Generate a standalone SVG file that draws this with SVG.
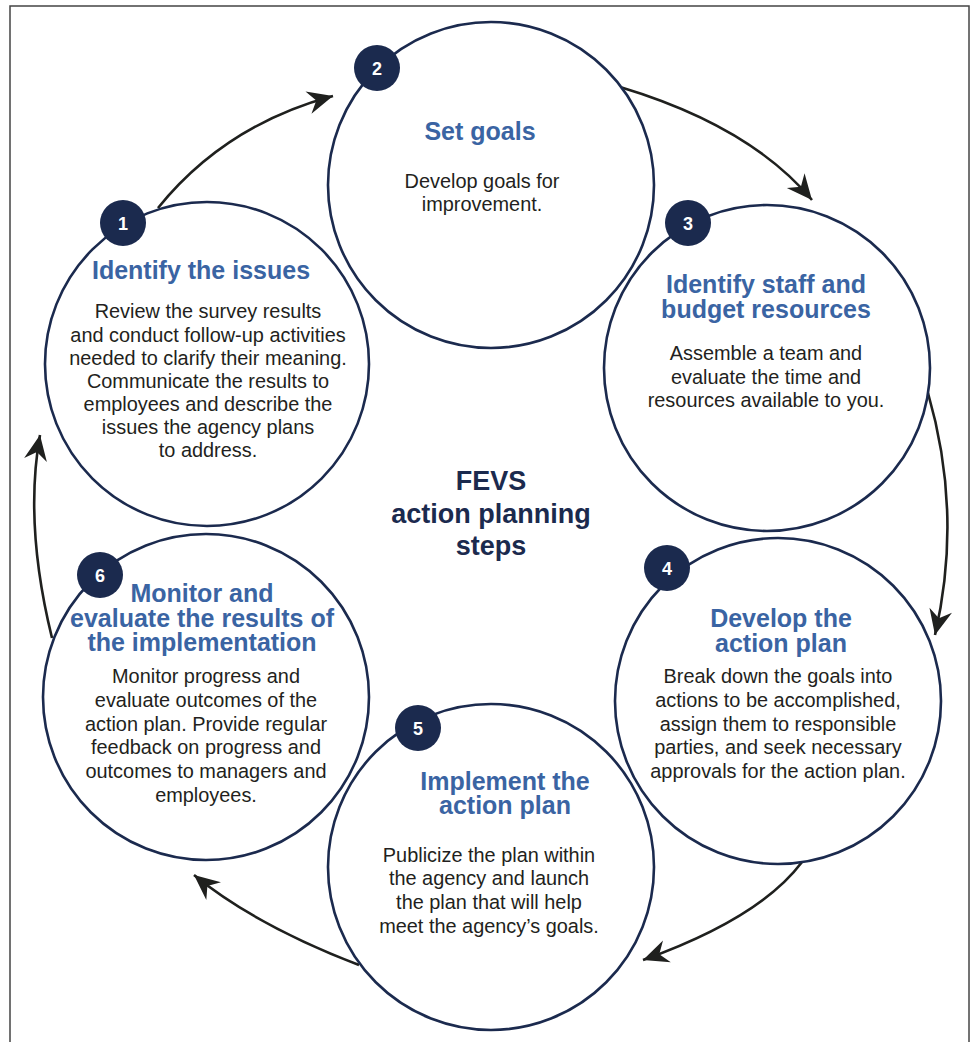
<svg xmlns="http://www.w3.org/2000/svg" width="975" height="1042" viewBox="0 0 975 1042">
<defs>
<style>
.ring{fill:#fff;stroke:#1b2a4e;stroke-width:2.6}
.badge{fill:#1b2a4e}
.num{fill:#fff;font-family:"Liberation Sans",Arial,sans-serif;font-weight:bold;font-size:18px;text-anchor:middle}
.title{fill:#3a64a3;font-family:"Liberation Sans",Arial,sans-serif;font-weight:bold;font-size:25px;text-anchor:middle}
.body{fill:#231f20;font-family:"Liberation Sans",Arial,sans-serif;font-size:19.9px;text-anchor:middle}
.center{fill:#1b2a4e;font-family:"Liberation Sans",Arial,sans-serif;font-weight:bold;font-size:27px;text-anchor:middle}
.arrow{fill:none;stroke:#1f201e;stroke-width:2.6;marker-end:url(#head)}
</style>
<marker id="head" markerUnits="userSpaceOnUse" markerWidth="30" markerHeight="30" viewBox="-24 -12 26 24" refX="0" refY="0" orient="auto">
<path d="M0,0 L-22,-10 L-15,0 L-22,10 Z" fill="#1f201e"/>
</marker>
</defs>
<rect x="10" y="6" width="959" height="1045" fill="#fff" stroke="#444" stroke-width="1.5"/>

<g id="connectors">
<path class="arrow" d="M158,208 Q225,125 333,96"/>
<path class="arrow" d="M620,87 Q750,126 812,200"/>
<path class="arrow" d="M928,393 Q963,514 935,635"/>
<path class="arrow" d="M802,862 Q760,918 643,960"/>
<path class="arrow" d="M359,965 Q255,925 194,875"/>
<path class="arrow" d="M52,638 Q24,524 40,435"/>
</g>

<g id="node2">
<circle class="ring" cx="491" cy="185" r="163"/>
<circle class="badge" cx="377" cy="68" r="23"/>
<text class="num" x="377" y="74.5">2</text>
<text class="title" x="480" y="140">Set goals</text>
<text class="body" x="482" y="188">Develop goals for</text>
<text class="body" x="482" y="211">improvement.</text>
</g>

<g id="node1">
<circle class="ring" cx="207" cy="364" r="162"/>
<circle class="badge" cx="123" cy="223" r="23"/>
<text class="num" x="123" y="229.5">1</text>
<text class="title" x="201" y="279">Identify the issues</text>
<text class="body" x="208" y="318">Review the survey results</text>
<text class="body" x="208" y="341.5">and conduct follow-up activities</text>
<text class="body" x="208" y="365">needed to clarify their meaning.</text>
<text class="body" x="208" y="388">Communicate the results to</text>
<text class="body" x="208" y="411">employees and describe the</text>
<text class="body" x="208" y="434">issues the agency plans</text>
<text class="body" x="208" y="457">to address.</text>
</g>

<g id="node3">
<circle class="ring" cx="767" cy="368" r="163"/>
<circle class="badge" cx="688" cy="223" r="23"/>
<text class="num" x="688" y="229.5">3</text>
<text class="title" x="766" y="293">Identify staff and</text>
<text class="title" x="766" y="318">budget resources</text>
<text class="body" x="766" y="360">Assemble a team and</text>
<text class="body" x="766" y="384">evaluate the time and</text>
<text class="body" x="766" y="407">resources available to you.</text>
</g>

<g id="node4">
<circle class="ring" cx="778" cy="701" r="163"/>
<circle class="badge" cx="667" cy="568" r="23"/>
<text class="num" x="667" y="574.5">4</text>
<text class="title" x="781" y="627">Develop the</text>
<text class="title" x="781" y="652">action plan</text>
<text class="body" x="778" y="683">Break down the goals into</text>
<text class="body" x="778" y="707">actions to be accomplished,</text>
<text class="body" x="778" y="731">assign them to responsible</text>
<text class="body" x="778" y="754">parties, and seek necessary</text>
<text class="body" x="778" y="778">approvals for the action plan.</text>
</g>

<g id="node6">
<circle class="ring" cx="206" cy="697" r="163"/>
<circle class="badge" cx="100" cy="575" r="23"/>
<text class="num" x="100" y="581.5">6</text>
<text class="title" x="202" y="602">Monitor and</text>
<text class="title" x="202" y="627">evaluate the results of</text>
<text class="title" x="202" y="651">the implementation</text>
<text class="body" x="206" y="683">Monitor progress and</text>
<text class="body" x="206" y="707">evaluate outcomes of the</text>
<text class="body" x="206" y="731">action plan. Provide regular</text>
<text class="body" x="206" y="754">feedback on progress and</text>
<text class="body" x="206" y="778">outcomes to managers and</text>
<text class="body" x="206" y="802">employees.</text>
</g>

<g id="node5">
<circle class="ring" cx="491" cy="867" r="163"/>
<circle class="badge" cx="418" cy="728" r="23"/>
<text class="num" x="418" y="734.5">5</text>
<text class="title" x="505" y="790">Implement the</text>
<text class="title" x="505" y="814">action plan</text>
<text class="body" x="489" y="862">Publicize the plan within</text>
<text class="body" x="489" y="885">the agency and launch</text>
<text class="body" x="489" y="909">the plan that will help</text>
<text class="body" x="489" y="933">meet the agency’s goals.</text>
</g>

<g id="center">
<text class="center" x="491" y="490">FEVS</text>
<text class="center" x="491" y="523">action planning</text>
<text class="center" x="491" y="555">steps</text>
</g>
</svg>
